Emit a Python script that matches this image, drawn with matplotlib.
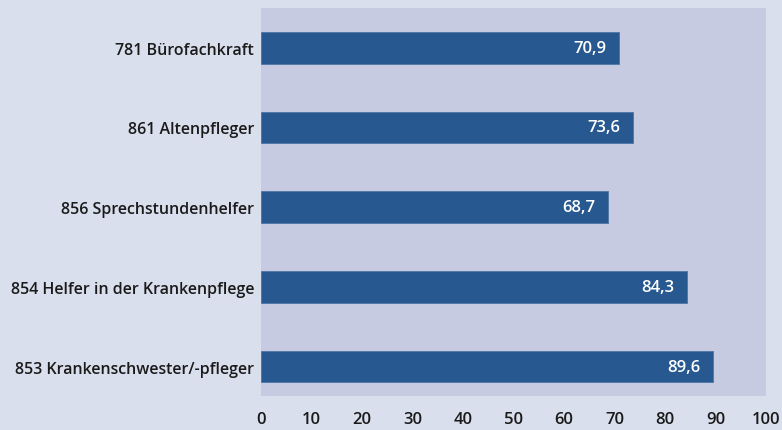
import matplotlib.pyplot as plt

categories = [
    "853 Krankenschwester/-pfleger",
    "854 Helfer in der Krankenpflege",
    "856 Sprechstundenhelfer",
    "861 Altenpfleger",
    "781 Bürofachkraft",
]
values = [89.6, 84.3, 68.7, 73.6, 70.9]
value_labels = ["89,6", "84,3", "68,7", "73,6", "70,9"]
xticks = [0, 10, 20, 30, 40, 50, 60, 70, 80, 90, 100]

plt.rcParams["font.family"] = ["Open Sans", "DejaVu Sans"]

fig = plt.figure(figsize=(7.82, 4.31), dpi=100, facecolor="#dadfed")
ax = fig.add_axes([0.3338, 0.0789, 0.6457, 0.9003])
ax.set_facecolor("#c6cbe1")

pos = list(range(len(categories)))
ax.barh(pos, values, height=0.4, color="#27588f", edgecolor="#4a76a8", linewidth=0.6)

for p, v, lab in zip(pos, values, value_labels):
    ax.text(v - 2.5, p, lab, color="white", fontsize=12, fontweight="semibold",
            ha="right", va="center")

ax.set_xlim(0, 100)
ax.set_ylim(-0.37, 4.5)
ax.set_yticks(pos)
ax.set_yticklabels(categories, fontsize=11.5, fontweight="semibold", color="#1a1a1a")
ax.set_xticks(xticks)
ax.set_xticklabels([str(t) for t in xticks], fontsize=12, fontweight="semibold", color="#1a1a1a")
ax.tick_params(axis="y", length=0, pad=5)
ax.tick_params(axis="x", length=0, pad=11)
for s in ax.spines.values():
    s.set_visible(False)

fig.savefig("out.png", dpi=100, facecolor=fig.get_facecolor())
